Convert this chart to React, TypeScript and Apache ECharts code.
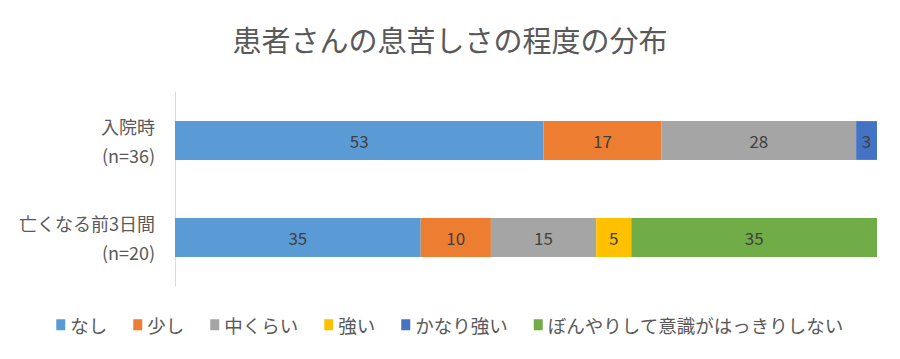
import React, { useEffect, useRef } from "react";
import * as echarts from "echarts";

const categories = ["入院時\n(n=36)", "亡くなる前3日間\n(n=20)"];
const seriesNames = ["なし", "少し", "中くらい", "強い", "かなり強い", "ぼんやりして意識がはっきりしない"];
const nashi = [53, 35];
const sukoshi = [17, 10];
const chukurai = [28, 15];
const tsuyoi = [null, 5];
const kanariTsuyoi = [3, null];
const bonyari = [null, 35];
const colors = ["#5B9BD5", "#ED7D31", "#A5A5A5", "#FFC000", "#4472C4", "#70AD47"];

const allValues = [nashi, sukoshi, chukurai, tsuyoi, kanariTsuyoi, bonyari];

export default function App() {
  const ref = useRef<HTMLDivElement>(null);
  useEffect(() => {
    const chart = echarts.init(ref.current!, undefined, { renderer: "svg" });
    const totals = categories.map((_, i) =>
      allValues.reduce((s, arr) => s + (arr[i] ?? 0), 0)
    );
    const font = '"Noto Sans CJK JP", "Noto Sans", sans-serif';
    chart.setOption({
      animation: false,
      color: colors,
      title: {
        text: "患者さんの息苦しさの程度の分布",
        left: "center",
        top: 11,
        textStyle: { fontFamily: font, fontSize: 29, fontWeight: "normal", color: "#595959" },
      },
      legend: {
        bottom: 12,
        left: "center",
        itemWidth: 9,
        itemHeight: 11,
        itemGap: 26,
        icon: "rect",
        textStyle: { fontFamily: font, fontSize: 18.5, color: "#595959" },
        data: seriesNames,
      },
      grid: { left: 167, right: 15, top: 84, bottom: 65, containLabel: false },
      xAxis: {
        type: "value",
        min: 0,
        max: 100,
        show: false,
      },
      yAxis: {
        type: "category",
        inverse: true,
        data: categories,
        axisLine: { show: true, lineStyle: { color: "#D9D9D9", width: 1 } },
        axisTick: { show: false },
        axisLabel: {
          margin: 20,
          fontFamily: font,
          fontSize: 18,
          color: "#595959",
          lineHeight: 29,
          align: "right",
        },
      },
      series: seriesNames.map((name, si) => ({
        name,
        type: "bar",
        stack: "total",
        barWidth: "40%",
        label: {
          show: true,
          position: "inside",
          fontFamily: font,
          fontSize: 17,
          color: "#404040",
          formatter: (p: any) => String(allValues[si][p.dataIndex] ?? ""),
        },
        data: allValues[si].map((v, i) => (v == null ? null : (v / totals[i]) * 100)),
      })),
    });
    return () => chart.dispose();
  }, []);
  return <div ref={ref} style={{ width: 884, height: 343 }} />;
}
